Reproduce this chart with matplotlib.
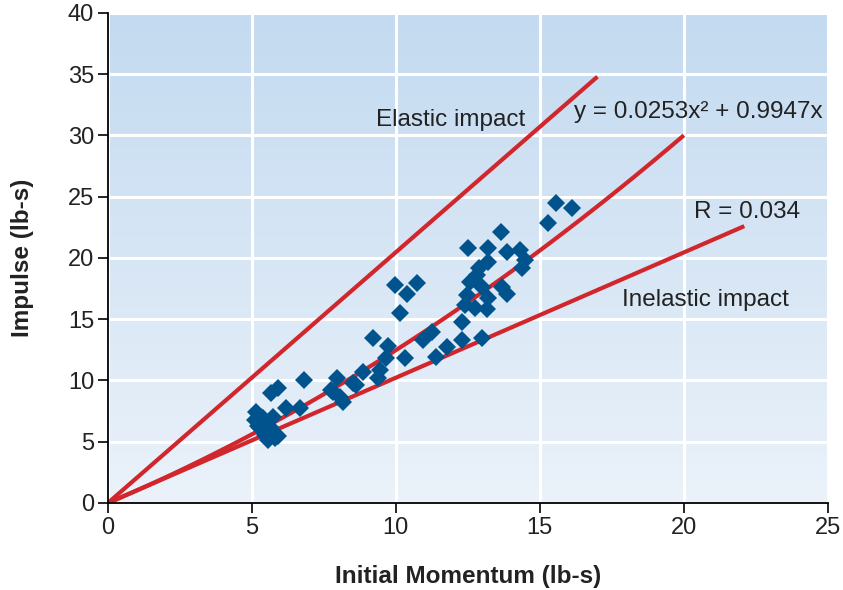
import numpy as np
import matplotlib
matplotlib.use("Agg")
import matplotlib.pyplot as plt

plt.rcParams['font.family'] = ['Liberation Sans', 'DejaVu Sans']

# measured points (initial momentum, impulse)
momentum = [5.16, 5.33, 5.10, 5.50, 5.28, 5.63, 5.45, 5.80, 5.56, 5.74, 5.20, 5.40, 5.60, 5.90,
            5.68, 5.91, 6.20, 6.67, 6.80,
            7.82, 7.95, 8.06, 8.17, 8.52, 8.63, 8.85, 7.76,
            9.21, 9.73, 9.67, 9.44, 9.38, 10.31, 9.97, 10.73, 10.38, 10.14,
            10.94, 11.25, 11.77, 11.40, 12.30, 12.30, 13.00,
            12.50, 13.20, 13.85, 14.30, 14.48, 14.38, 13.20, 12.90, 12.80, 12.57, 13.00,
            13.68, 13.85, 12.47, 13.20, 12.40, 12.74, 13.16,
            15.57, 16.10, 15.29, 13.66]
impulse = [7.45, 7.04, 6.78, 6.64, 6.10, 6.23, 5.55, 5.28, 5.14, 7.04, 6.30, 6.90, 5.90, 5.50,
           8.95, 9.36, 7.73, 7.73, 10.00,
           9.09, 10.18, 8.68, 8.27, 9.77, 9.60, 10.70, 9.20,
           13.50, 12.85, 11.81, 10.86, 10.18, 11.81, 17.80, 17.96, 17.10, 15.50,
           13.30, 13.96, 12.70, 11.90, 14.80, 13.30, 13.50,
           20.80, 20.80, 20.50, 20.65, 19.80, 19.20, 19.70, 19.20, 18.60, 18.00, 17.60,
           17.60, 17.10, 17.00, 16.70, 16.20, 15.90, 15.80,
           24.46, 24.06, 22.83, 22.15]

# reference lines
elastic_x = [0, 17.0]
elastic_y = [0, 34.8]
inelastic_x = [0, 22.1]
inelastic_y = [0, 22.6]
fit_coef = [0.0253, 0.9947, 0.0]   # y = 0.0253x^2 + 0.9947x
fit_xmax = 20.0

red = '#d2262d'
blue = '#00538c'
txt = '#222222'
fs = 17.5

fig = plt.figure(figsize=(8.43, 5.90), dpi=100)
ax = fig.add_axes([0.128, 0.1475, 0.854, 0.8305])
ax.set_xlim(0, 25)
ax.set_ylim(0, 40)

# vertical gradient background
grad = np.linspace(0, 1, 256).reshape(-1, 1)
cmap = matplotlib.colors.LinearSegmentedColormap.from_list('bg', ['#ebf2fa', '#c3daf0'])
ax.imshow(grad, extent=[0, 1, 0, 1], transform=ax.transAxes, origin='lower',
          aspect='auto', cmap=cmap, zorder=0)

ax.set_xticks(range(0, 26, 5))
ax.set_yticks(range(0, 41, 5))
ax.grid(True, color='white', lw=2.2, zorder=1)
ax.set_axisbelow(True)
for s in ['top', 'right']:
    ax.spines[s].set_visible(False)
for s in ['left', 'bottom']:
    ax.spines[s].set_linewidth(1.3)
    ax.spines[s].set_zorder(5)
ax.tick_params(direction='out', length=7, width=1.2, labelsize=17, pad=3, labelcolor=txt)

ax.plot(elastic_x, elastic_y, color=red, lw=3, solid_capstyle='butt', zorder=3)
ax.plot(inelastic_x, inelastic_y, color=red, lw=3, solid_capstyle='butt', zorder=3)
fx = np.linspace(0, fit_xmax, 100)
ax.plot(fx, np.polyval(fit_coef, fx), color=red, lw=3, solid_capstyle='butt', zorder=3)

ax.plot(momentum, impulse, 'D', color=blue, ms=9.5, mec=blue, mew=0, zorder=4,
        clip_on=False)

ax.text(11.9, 31.3, 'Elastic impact', fontsize=fs, ha='center', va='center', color=txt)
ax.text(20.5, 31.9, 'y = 0.0253x² + 0.9947x', fontsize=fs, ha='center', va='center',
        color=txt)
ax.text(22.2, 23.75, 'R = 0.034', fontsize=fs, ha='center', va='center', color=txt)
ax.text(20.75, 16.6, 'Inelastic impact', fontsize=fs, ha='center', va='center', color=txt)

ax.set_xlabel('Initial Momentum (lb-s)', fontsize=fs, fontweight='bold', color=txt)
ax.set_ylabel('Impulse (lb-s)', fontsize=fs, fontweight='bold', color=txt)
ax.xaxis.set_label_coords(0.5, -0.151)
ax.yaxis.set_label_coords(-0.119, 0.5)
ax.xaxis.label.set_va('center')
ax.yaxis.label.set_va('center')

fig.savefig('out.png', dpi=100)
